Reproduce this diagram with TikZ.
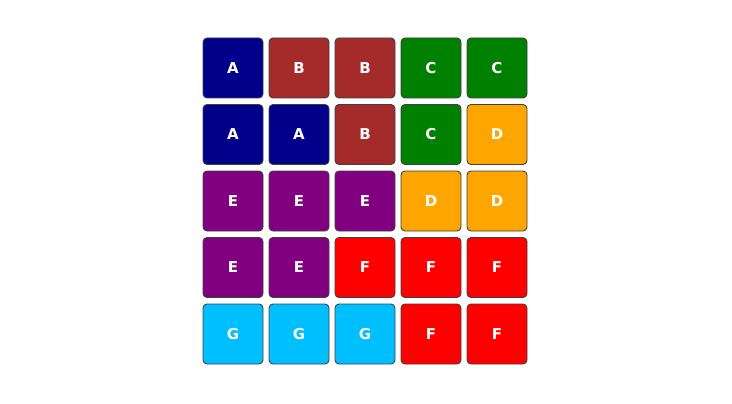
\documentclass[tikz,border=0pt]{standalone}
\usepackage{fontspec}
\setmainfont{DejaVu Sans}
\definecolor{cellA}{HTML}{00008B}
\definecolor{cellB}{HTML}{A52A2A}
\definecolor{cellC}{HTML}{008000}
\definecolor{cellD}{HTML}{FFA500}
\definecolor{cellE}{HTML}{800080}
\definecolor{cellF}{HTML}{FF0000}
\definecolor{cellG}{HTML}{00BFFF}
\begin{document}
\begin{tikzpicture}[x=1pt, y=-1pt,
	cell/.style={draw=black!75, line width=0.9pt, rounded corners=4pt, minimum size=60pt, inner sep=0pt, text=white, font=\fontsize{15}{17}\selectfont\bfseries}]
	\useasboundingbox (0,0) rectangle (732,404);
	\foreach \row [count=\r] in {{A,B,B,C,C},{A,A,B,C,D},{E,E,E,D,D},{E,E,F,F,F},{G,G,G,F,F}}
		\foreach \l [count=\c] in \row
			\node[cell, fill=cell\l] (c-\r-\c) at ({167+66*\c},{1.5+66.5*\r}) {\l};
\end{tikzpicture}
\end{document}
